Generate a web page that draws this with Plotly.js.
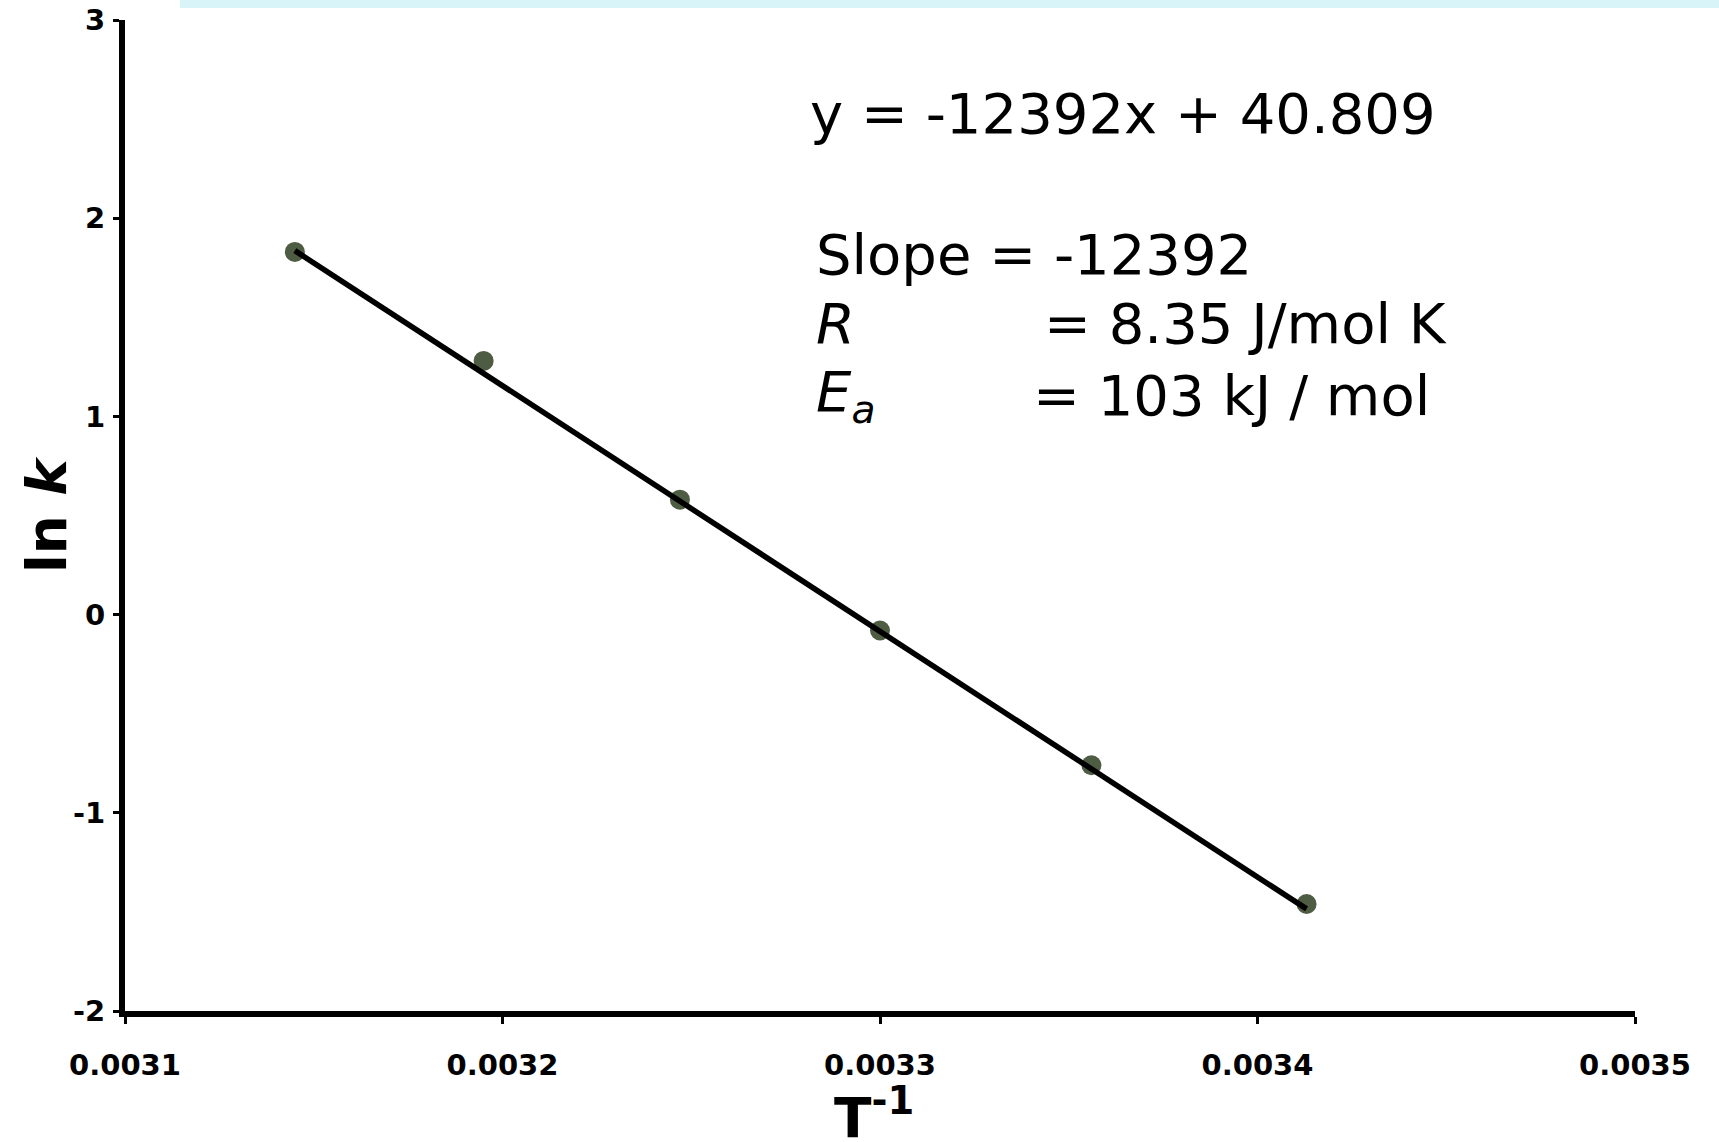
<!DOCTYPE html>
<html>
<head>
<meta charset="utf-8">
<script src="https://cdn.plot.ly/plotly-3.0.1.min.js"></script>
<style>
  html, body { margin: 0; padding: 0; background: #ffffff; }
  #chart { width: 1719px; height: 1142px; }
</style>
</head>
<body>
<div id="chart"></div>
<script>
// ---- data ----
const invT = [0.003145, 0.003195, 0.003247, 0.003300, 0.003356, 0.003413];
const lnK  = [1.83, 1.28, 0.58, -0.08, -0.76, -1.46];

const fitSlope = -12392;
const fitIntercept = 40.809;

const xTickVals = [0.0031, 0.0032, 0.0033, 0.0034, 0.0035];
const xTickText = ['0.0031', '0.0032', '0.0033', '0.0034', '0.0035'];
const yTickVals = [-2, -1, 0, 1, 2, 3];
const yTickText = ['-2', '-1', '0', '1', '2', '3'];

const xTitle = 'T<sup>-1</sup>';
const yTitle = 'ln <i>k</i>';
const eqText = 'y = -12392x + 40.809';
const slopeText = 'Slope = -12392';
const rLabel = '<i>R</i>';
const rValue = '= 8.35 J/mol K';
const eaLabel = '<i>E<sub>a</sub></i>';
const eaValue = '= 103 kJ / mol';

// ---- layout geometry ----
const W = 1719, H = 1142;
const M = { l: 125, r: 84, t: 20, b: 131 };
const plotW = W - M.l - M.r, plotH = H - M.t - M.b;
const px = v => (v - M.l) / plotW;          // pixel x -> paper x
const py = v => (H - M.b - v) / plotH;      // pixel y -> paper y

// trendline end points from the fitted equation
const lineX = [invT[0], invT[invT.length - 1]];
const lineY = lineX.map(x => fitSlope * x + fitIntercept);

const fam = 'DejaVu Sans, Liberation Sans, Arial, sans-serif';
const textFont = { family: fam, size: 56, color: '#000000' };
const tickFont = { family: fam, size: 29, color: '#000000', weight: 'bold' };
const titleFont = { family: fam, size: 55, color: '#000000', weight: 'bold' };

const traces = [
  {
    x: invT, y: lnK, type: 'scatter', mode: 'markers',
    marker: { size: 20, color: 'rgb(78,92,68)' },
    hoverinfo: 'x+y', showlegend: false
  },
  {
    x: lineX, y: lineY, type: 'scatter', mode: 'lines',
    line: { color: '#000000', width: 5.5 },
    hoverinfo: 'skip', showlegend: false
  }
];

const layout = {
  width: W, height: H,
  margin: M,
  paper_bgcolor: '#ffffff', plot_bgcolor: '#ffffff',
  showlegend: false,
  xaxis: {
    range: [0.0031, 0.0035],
    tickvals: xTickVals, ticktext: xTickText,
    showgrid: false, zeroline: false,
    showline: true, linecolor: '#000000', linewidth: 6,
    ticks: 'outside', ticklen: 7, tickwidth: 3, tickcolor: '#000000',
    tickfont: tickFont,
    ticklabelstandoff: 16,
    title: { text: '' }
  },
  yaxis: {
    range: [-2, 3],
    tickvals: yTickVals, ticktext: yTickText,
    showgrid: false, zeroline: false,
    showline: true, linecolor: '#000000', linewidth: 6,
    ticks: 'outside', ticklen: 6, tickwidth: 3, tickcolor: '#000000',
    tickfont: tickFont,
    ticklabelstandoff: 2,
    title: { text: '' }
  },
  shapes: [
    {
      type: 'rect', xref: 'paper', yref: 'paper',
      x0: px(180), x1: px(W), y0: py(8), y1: py(0),
      fillcolor: '#d9f4f8', line: { width: 0 }, layer: 'below'
    }
  ],
  annotations: [
    // axis titles
    { text: xTitle, xref: 'paper', yref: 'paper', x: px(874), y: py(1076), xanchor: 'center', yanchor: 'top', showarrow: false, font: titleFont },
    { text: yTitle, xref: 'paper', yref: 'paper', x: px(47), y: py(515), xanchor: 'center', yanchor: 'middle', textangle: -90, showarrow: false, font: titleFont },
    // equation / result text
    { text: eqText, xref: 'paper', yref: 'paper', x: px(808), y: py(114), xanchor: 'left', yanchor: 'middle', showarrow: false, font: textFont },
    { text: slopeText, xref: 'paper', yref: 'paper', x: px(814), y: py(254), xanchor: 'left', yanchor: 'middle', showarrow: false, font: textFont },
    { text: rLabel, xref: 'paper', yref: 'paper', x: px(814), y: py(323), xanchor: 'left', yanchor: 'middle', showarrow: false, font: textFont },
    { text: rValue, xref: 'paper', yref: 'paper', x: px(1042), y: py(323), xanchor: 'left', yanchor: 'middle', showarrow: false, font: textFont },
    { text: eaLabel, xref: 'paper', yref: 'paper', x: px(814), y: py(395), xanchor: 'left', yanchor: 'middle', showarrow: false, font: textFont },
    { text: eaValue, xref: 'paper', yref: 'paper', x: px(1031), y: py(395), xanchor: 'left', yanchor: 'middle', showarrow: false, font: textFont }
  ]
};

Plotly.newPlot('chart', traces, layout, { displayModeBar: false, staticPlot: false });
</script>
</body>
</html>
